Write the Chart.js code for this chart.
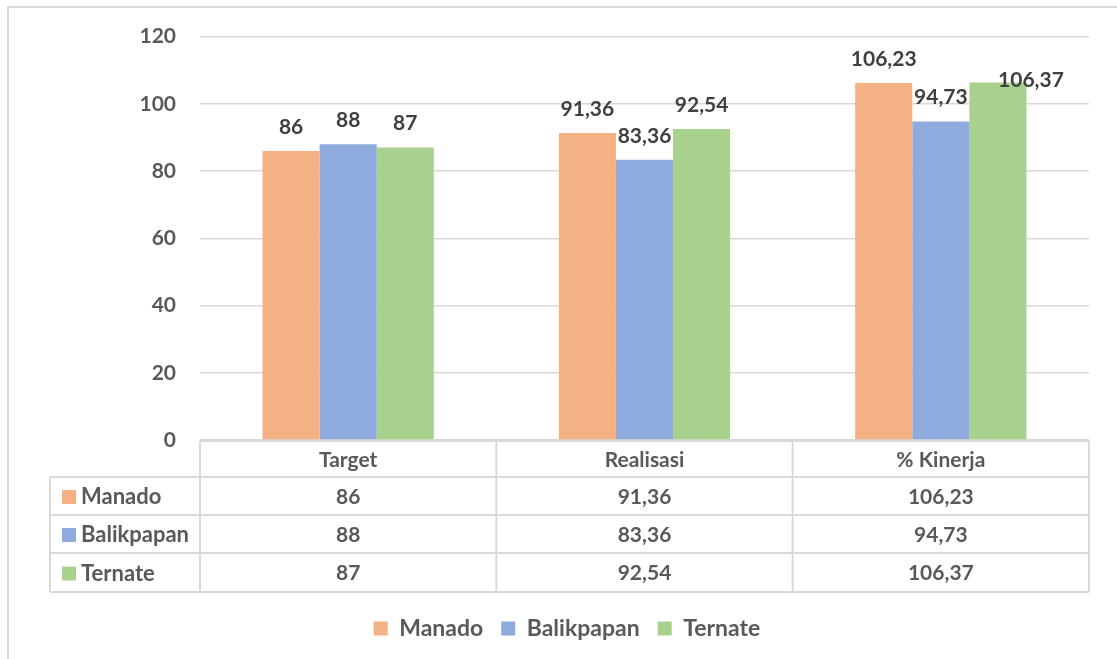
<!DOCTYPE html>
<html>
<head>
<meta charset="utf-8">
<script src="https://cdn.jsdelivr.net/npm/chart.js@4.4.1/dist/chart.umd.min.js"></script>
<style>
  html, body { margin: 0; padding: 0; background: #ffffff; }
  #wrap { position: relative; width: 1117px; height: 659px; overflow: hidden; }
  #frame { position: absolute; left: 7px; top: 6px; width: 1200px; height: 700px;
           border-left: 2px solid #d9d9d9; border-top: 2px solid #d9d9d9; box-sizing: border-box; }
  canvas { position: absolute; left: 0; top: 0; }
</style>
</head>
<body>
<div id="wrap">
  <div id="frame"></div>
  <canvas id="c" width="1117" height="659"></canvas>
</div>
<script>
// ---- data ----
const categories = ['Target', 'Realisasi', '% Kinerja'];
const seriesNames = ['Manado', 'Balikpapan', 'Ternate'];
const manado = [86, 91.36, 106.23];
const balikpapan = [88, 83.36, 94.73];
const ternate = [87, 92.54, 106.37];
const yTicks = [0, 20, 40, 60, 80, 100, 120];

// ---- styles ----
const colors = ['#F4B183', '#8FAADC', '#A9D18E'];
const FONT = 'Lato, "Open Sans", sans-serif';
const textGray = '#595959';
const labelDark = '#404040';
const lineGray = '#d9d9d9';
// manual nudge for one data label (dataset, index) -> [dx, dy]
const labelNudges = { '2-2': [33, 22] };

Chart.defaults.font.family = FONT;
Chart.defaults.font.weight = 700;

const fmt = v => String(v).replace('.', ',');

const tablePlugin = {
  id: 'dataTable',
  afterDraw(chart) {
    const ctx = chart.ctx;
    const xs = chart.scales.x;
    const area = chart.chartArea;
    const half = (xs.getPixelForValue(1) - xs.getPixelForValue(0)) / 2;
    const colEdges = [50];
    categories.forEach((c, i) => colEdges.push(xs.getPixelForValue(i) - half));
    colEdges.push(xs.getPixelForValue(categories.length - 1) + half);
    const top = area.bottom + 1;
    const rowTops = [top, 477, 515, 553, 592];
    ctx.save();
    ctx.strokeStyle = lineGray;
    ctx.lineWidth = 2;
    ctx.beginPath();
    ctx.moveTo(colEdges[1], rowTops[0]); ctx.lineTo(colEdges[colEdges.length - 1], rowTops[0]);
    for (let r = 1; r < rowTops.length; r++) {
      ctx.moveTo(colEdges[0], rowTops[r]); ctx.lineTo(colEdges[colEdges.length - 1], rowTops[r]);
    }
    ctx.moveTo(colEdges[0], rowTops[1]); ctx.lineTo(colEdges[0], rowTops[4]);
    for (let k = 1; k < colEdges.length; k++) {
      ctx.moveTo(colEdges[k], rowTops[0]); ctx.lineTo(colEdges[k], rowTops[4]);
    }
    ctx.stroke();

    ctx.fillStyle = textGray;
    ctx.textBaseline = 'middle';
    ctx.textAlign = 'center';
    ctx.font = 'bold 21px ' + FONT;
    categories.forEach((c, i) => {
      ctx.fillText(c, xs.getPixelForValue(i), (rowTops[0] + rowTops[1]) / 2 + 1);
    });
    chart.data.datasets.forEach((ds, d) => {
      const cy = (rowTops[d + 1] + rowTops[d + 2]) / 2 + 1;
      ctx.fillStyle = ds.backgroundColor;
      ctx.fillRect(62, cy - 7, 14, 14);
      ctx.fillStyle = textGray;
      ctx.textAlign = 'left';
      ctx.font = 'bold 22px ' + FONT;
      ctx.fillText(ds.label, 81, cy);
      ctx.textAlign = 'center';
      ctx.font = 'bold 21px ' + FONT;
      ds.data.forEach((v, i) => ctx.fillText(fmt(v), xs.getPixelForValue(i), cy));
    });
    ctx.restore();
  }
};

const labelPlugin = {
  id: 'barLabels',
  afterDatasetsDraw(chart) {
    const ctx = chart.ctx;
    ctx.save();
    ctx.font = 'bold 21px ' + FONT;
    ctx.fillStyle = labelDark;
    ctx.textAlign = 'center';
    ctx.textBaseline = 'middle';
    chart.data.datasets.forEach((ds, d) => {
      chart.getDatasetMeta(d).data.forEach((el, i) => {
        const n = labelNudges[d + '-' + i] || [0, 0];
        ctx.fillText(fmt(ds.data[i]), el.x + n[0], el.y - 24 + n[1]);
      });
    });
    ctx.restore();
  }
};

new Chart(document.getElementById('c'), {
  type: 'bar',
  data: {
    labels: categories,
    datasets: [
      { label: seriesNames[0], data: manado, backgroundColor: colors[0] },
      { label: seriesNames[1], data: balikpapan, backgroundColor: colors[1] },
      { label: seriesNames[2], data: ternate, backgroundColor: colors[2] }
    ]
  },
  options: {
    responsive: false,
    animation: false,
    layout: { padding: { left: 45, right: 28, top: 36, bottom: 9 } },
    datasets: { bar: { categoryPercentage: 0.578, barPercentage: 1.0 } },
    scales: {
      x: {
        grid: { display: false },
        border: { display: false },
        ticks: { display: false },
        afterFit(scale) { scale.height = 159; }
      },
      y: {
        min: 0, max: 120,
        afterBuildTicks(scale) { scale.ticks = yTicks.map(v => ({ value: v })); },
        afterFit(scale) { scale.width = 155; },
        grid: { color: lineGray, lineWidth: 1.5, drawTicks: false },
        border: { display: false },
        ticks: { padding: 24, color: textGray, font: { family: FONT, size: 21, weight: 700 } }
      }
    },
    plugins: {
      tooltip: { enabled: false },
      legend: {
        position: 'bottom',
        labels: {
          boxWidth: 14, boxHeight: 14, padding: 18,
          color: textGray,
          font: { family: FONT, size: 23, weight: 700 }
        }
      }
    }
  },
  plugins: [tablePlugin, labelPlugin]
});
</script>
</body>
</html>
